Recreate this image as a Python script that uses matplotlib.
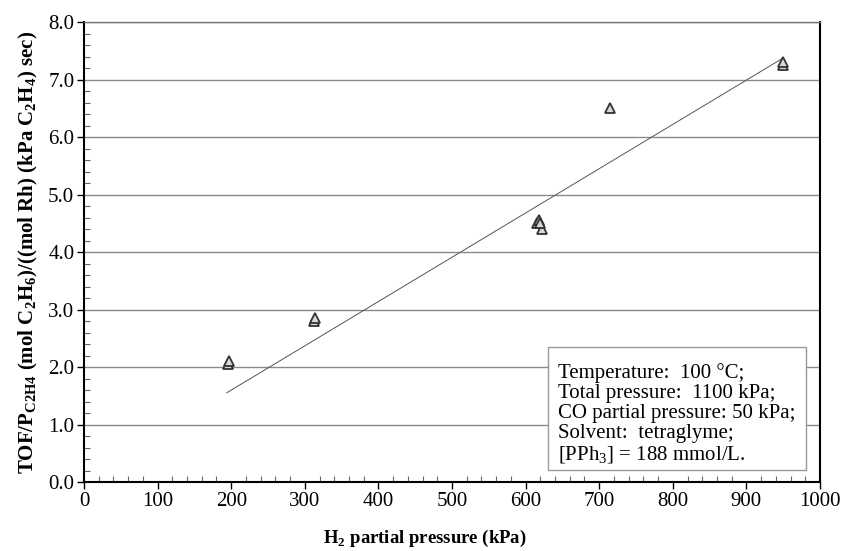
import numpy as np
import matplotlib
matplotlib.use("Agg")
import matplotlib.pyplot as plt
from matplotlib.patches import Rectangle
from matplotlib.ticker import MultipleLocator, FormatStrFormatter

plt.rcParams['font.family'] = ['Liberation Serif', 'DejaVu Serif']
plt.rcParams['mathtext.fontset'] = 'custom'
plt.rcParams['mathtext.rm'] = 'Liberation Serif'
plt.rcParams['mathtext.bf'] = 'Liberation Serif:bold'

# data
h2_pressure = [196, 197, 313, 314, 615, 618, 622, 620, 715, 950, 950]
tof = [2.05, 2.1, 2.8, 2.85, 4.5, 4.55, 4.4, 4.5, 6.5, 7.25, 7.3]

# straight line drawn on the chart
line_x = [194, 948]
line_slope = 0.0077
line_intercept = 0.06

conditions = ["Temperature:  100 \u00b0C;",
              "Total pressure:  1100 kPa;",
              "CO partial pressure: 50 kPa;",
              "Solvent:  tetraglyme;",
              "[PPh$_3$] = 188 mmol/L."]

x = np.array(h2_pressure, dtype=float)
y = np.array(tof)

fig = plt.figure(figsize=(8.41, 5.51), dpi=100)
ax = fig.add_axes([0.0999, 0.125, 0.8751, 0.835])

ax.yaxis.grid(True, which='major', color='#8a8a8a', linewidth=1.0)
ax.set_axisbelow(True)

xf = np.array(line_x, dtype=float)
ax.plot(xf, line_slope * xf + line_intercept, color='#555555', linewidth=0.7)
ax.plot(x, y, linestyle='none', marker='^', markersize=7,
        markerfacecolor='#d8d8d8', markeredgecolor='#333333', markeredgewidth=1.3)

ax.set_xlim(0, 1000)
ax.set_ylim(0, 8)
ax.xaxis.set_major_locator(MultipleLocator(100))
ax.xaxis.set_minor_locator(MultipleLocator(20))
ax.yaxis.set_major_locator(MultipleLocator(1))
ax.yaxis.set_minor_locator(MultipleLocator(0.2))
ax.yaxis.set_major_formatter(FormatStrFormatter('%.1f'))
ax.tick_params(which='major', direction='out', length=5, width=1, labelsize=15)
ax.tick_params(axis='x', which='major', pad=2)
ax.tick_params(axis='y', which='major', pad=2)
ax.tick_params(which='minor', direction='in', length=4, width=0.8, color='#666666')

for s in ['left', 'bottom', 'right']:
    ax.spines[s].set_linewidth(1.5)
    ax.spines[s].set_color('black')
ax.spines['top'].set_color('#777777')
ax.spines['top'].set_linewidth(1.0)

ax.set_xlabel("H$_\\mathbf{2}$ partial pressure (kPa)", fontsize=13.5, fontweight='bold')
ax.xaxis.set_label_coords(0.463, -0.1)
ax.set_ylabel("TOF/P$_{\\mathbf{C2H4}}$ (mol C$_\\mathbf{2}$H$_\\mathbf{6}$)/((mol Rh) (kPa C$_\\mathbf{2}$H$_\\mathbf{4}$) sec)",
              fontsize=15, fontweight='bold', labelpad=6)

# conditions box
ax.add_patch(Rectangle((0.630, 0.026), 0.351, 0.267, transform=ax.transAxes,
                       facecolor='white', edgecolor='#999999', linewidth=1.0, zorder=3))
ax.text(0.644, 0.036, "\n".join(conditions), transform=ax.transAxes,
        fontsize=15, linespacing=1.08, va='bottom', ha='left', zorder=4)

fig.savefig("out.png", dpi=100)
